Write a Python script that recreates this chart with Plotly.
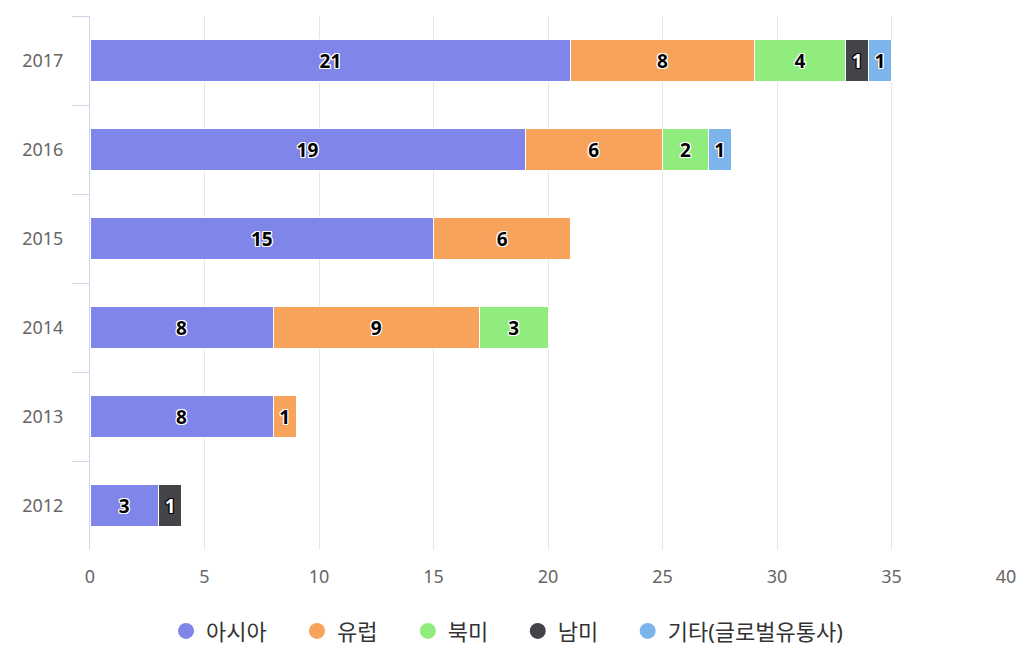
import plotly.graph_objects as go

years = ["2017", "2016", "2015", "2014", "2013", "2012"]
series_names = ["아시아", "유럽", "북미", "남미", "기타(글로벌유통사)"]
asia = [21, 19, 15, 8, 8, 3]
europe = [8, 6, 6, 9, 1, None]
north_america = [4, 2, None, 3, None, None]
south_america = [1, None, None, None, None, 1]
others = [1, 1, None, None, None, None]
x_ticks = [0, 5, 10, 15, 20, 25, 30, 35, 40]

series_values = [asia, europe, north_america, south_america, others]
colors = ["#8085e9", "#f7a35c", "#90ed7d", "#434348", "#7cb5ec"]
legend_x = [0.083, 0.226, 0.347, 0.467, 0.587]

FONT = "Noto Sans, Noto Sans CJK KR, sans-serif"
white_halo = "1px 1px 0 #fff, -1px -1px 0 #fff, 1px -1px 0 #fff, -1px 1px 0 #fff, 0 1px 0 #fff, 0 -1px 0 #fff, 1px 0 0 #fff, -1px 0 0 #fff"
black_halo = white_halo.replace("#fff", "#000")

fig = go.Figure()
for name, vals, col in zip(series_names, series_values, colors):
    dark = col == "#434348"
    fig.add_trace(go.Bar(
        y=years, x=vals, name=name, orientation="h",
        marker=dict(color=col, line=dict(color="#ffffff", width=1)),
        text=[("" if v is None else str(v)) for v in vals],
        textposition="inside", insidetextanchor="middle", textangle=0,
        textfont=dict(family=FONT, size=19, weight="bold",
                      color="#ffffff" if dark else "#000000",
                      shadow=black_halo if dark else white_halo),
        showlegend=False, hoverinfo="x+y+name",
    ))

legend_layouts = {}
for i, (name, col, lx) in enumerate(zip(series_names, colors, legend_x)):
    key = "legend" if i == 0 else f"legend{i + 1}"
    fig.add_trace(go.Scatter(
        x=[None], y=[None], mode="markers", name=name,
        marker=dict(symbol="circle", size=20, color=col),
        showlegend=True, legend=key,
    ))
    legend_layouts[key] = dict(
        orientation="h", x=lx, xanchor="left", y=-0.152, yanchor="middle",
        font=dict(family=FONT, size=22, color="#333333"),
        itemsizing="trace", bgcolor="rgba(0,0,0,0)", borderwidth=0,
    )

fig.update_layout(
    barmode="stack",
    bargap=0.535,
    width=1024, height=653,
    margin=dict(l=82, r=26, t=8, b=111),
    paper_bgcolor="#ffffff", plot_bgcolor="#ffffff",
    font=dict(family=FONT, color="#666666", size=18),
    uniformtext=dict(minsize=19, mode="show"),
    xaxis=dict(range=[0, 40], tickvals=x_ticks, showgrid=True, gridcolor="#e6e6e6",
               gridwidth=1, zeroline=False, showline=False, ticks="", automargin=False,
               tickfont=dict(size=18, color="#666666"), ticklabelstandoff=14, fixedrange=True),
    yaxis=dict(type="category", categoryorder="array", categoryarray=years,
               autorange="reversed", showline=True, linecolor="#ccd6eb", linewidth=1,
               ticks="outside", tickson="boundaries", ticklen=17, tickcolor="#ccd6eb",
               automargin=False,
               showgrid=False, tickfont=dict(size=18, color="#666666"), ticklabelstandoff=22),
    **legend_layouts,
)

fig.write_html("out.html")
